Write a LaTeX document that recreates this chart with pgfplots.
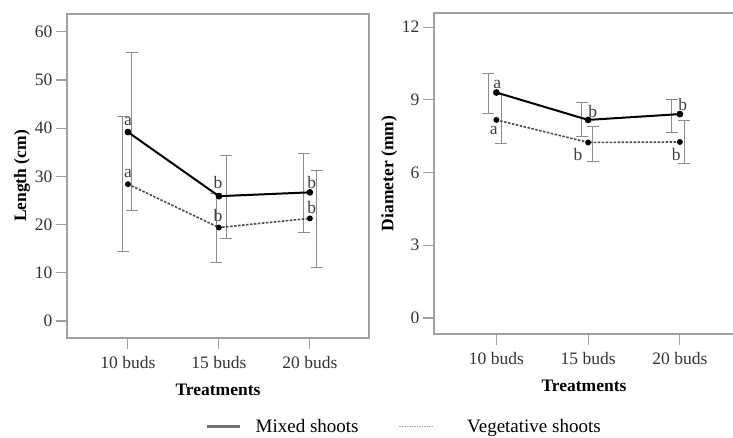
\documentclass[border=0pt]{standalone}
\usepackage{fontspec}
\setmainfont{Liberation Serif}
\usepackage{pgfplots}
\pgfplotsset{compat=1.18}
\definecolor{framegray}{HTML}{A0A0A0}
\definecolor{errgray}{HTML}{8C8C8C}
\definecolor{vegcol}{HTML}{4A4A4A}
\tikzset{letter/.style={font=\fontsize{17.5}{20}\selectfont, text=black!75, inner sep=0pt}}
\pgfplotsset{
  panel/.style={
    scale only axis,
    anchor=south west,
    axis line style={framegray, line width=1.1pt},
    tick style={framegray, line width=1.1pt},
    tick align=outside,
    major tick length=11pt,
    xtick pos=bottom, ytick pos=left,
    xtick={0,1,2},
    xticklabels={10 buds,15 buds,20 buds},
    /pgf/number format/assume math mode=true,
    tick label style={font=\fontsize{17.5}{20}\selectfont, text=black!80},
    xticklabel style={yshift=-4pt},
    label style={font=\fontsize{17.5}{20}\selectfont\bfseries},
    xlabel={Treatments},
    xlabel style={yshift=-8pt},
    ylabel style={yshift=-2pt},
    clip=false,
  },
  mixedstyle/.style={black, line width=2pt, mark=*, mark size=2.3pt, mark options={solid, fill=black}},
  vegstyle/.style={vegcol, line width=1.6pt, dash pattern=on 2.5pt off 1.5pt, mark=*, mark size=2.1pt, mark options={solid, fill=black, draw=black}},
  ebars/.style={forget plot, draw=none, mark=none,
    error bars/.cd, y dir=both, y explicit,
    error bar style={draw=errgray, line width=1pt, solid},
    error mark options={draw=errgray, line width=1pt, mark size=6pt, solid, rotate=90}},
}
\begin{document}
\begin{tikzpicture}
\useasboundingbox (0,0) rectangle (733pt,438pt);
% ---------------- Left panel: Length ----------------
\begin{axis}[panel,
  at={(67pt,100pt)}, width=302pt, height=324pt,
  xmin=-0.67, xmax=2.65, ymin=-3.52, ymax=63.7,
  ytick={0,10,20,30,40,50,60},
  ylabel={Length (cm)},
  legend style={at={(0.4585,-0.2735)}, anchor=west, draw=none, fill=none,
    legend columns=2, inner sep=0pt,
    font=\fontsize{19}{22}\selectfont,
    /tikz/every even column/.append style={column sep=38pt}},
  legend cell align=left,
  legend image code/.code={\draw[#1] (0pt,0pt) -- (33pt,0pt);},
]
\addlegendimage{black!55, line width=3pt}
\addlegendentry{\hspace{12pt}Mixed shoots}
\addlegendimage{black!35, line width=1.6pt, dash pattern=on 1.5pt off 1pt}
\addlegendentry{\hspace{32pt}Vegetative shoots}
\addplot[ebars] coordinates {(0.044,39.3) +- (0,16.4) (1.08,25.8) +- (0,8.6) (1.934,26.6) +- (0,8.2)};
\addplot[ebars] coordinates {(-0.055,28.4) +- (0,14.0) (0.97,19.3) +- (0,7.1) (2.077,21.2) +- (0,10.1)};
\addplot[vegstyle, forget plot] coordinates {(0,28.4) (1,19.4) (2,21.3)};
\addplot[mixedstyle, forget plot] coordinates {(0,39.2) (1,25.9) (2,26.7)};
\node[letter] at (axis cs:0,41.5) {a};
\node[letter] at (axis cs:0,30.6) {a};
\node[letter] at (axis cs:0.99,28.8) {b};
\node[letter] at (axis cs:0.99,21.8) {b};
\node[letter] at (axis cs:2.02,28.8) {b};
\node[letter] at (axis cs:2.02,23.6) {b};
\end{axis}
% ---------------- Right panel: Diameter ----------------
\begin{axis}[panel,
  at={(434pt,104pt)}, width=300pt, height=321pt,
  xmin=-0.68, xmax=2.59, ymin=-0.66, ymax=12.58,
  ytick={0,3,6,9,12},
  ylabel={Diameter (mm)},
]
\addplot[ebars] coordinates {(-0.087,9.27) +- (0,0.83) (0.93,8.2) +- (0,0.7) (1.91,8.35) +- (0,0.68)};
\addplot[ebars] coordinates {(0.055,8.2) +- (0,1.0) (1.05,7.17) +- (0,0.71) (2.05,7.26) +- (0,0.87)};
\addplot[vegstyle, forget plot] coordinates {(0,8.17) (1,7.24) (2,7.26)};
\addplot[mixedstyle, forget plot] coordinates {(0,9.3) (1,8.17) (2,8.41)};
\node[letter] at (axis cs:0.01,9.65) {a};
\node[letter] at (axis cs:-0.03,7.75) {a};
\node[letter] at (axis cs:1.05,8.5) {b};
\node[letter] at (axis cs:0.89,6.76) {b};
\node[letter] at (axis cs:2.03,8.82) {b};
\node[letter] at (axis cs:1.96,6.76) {b};
\end{axis}
\end{tikzpicture}
\end{document}
